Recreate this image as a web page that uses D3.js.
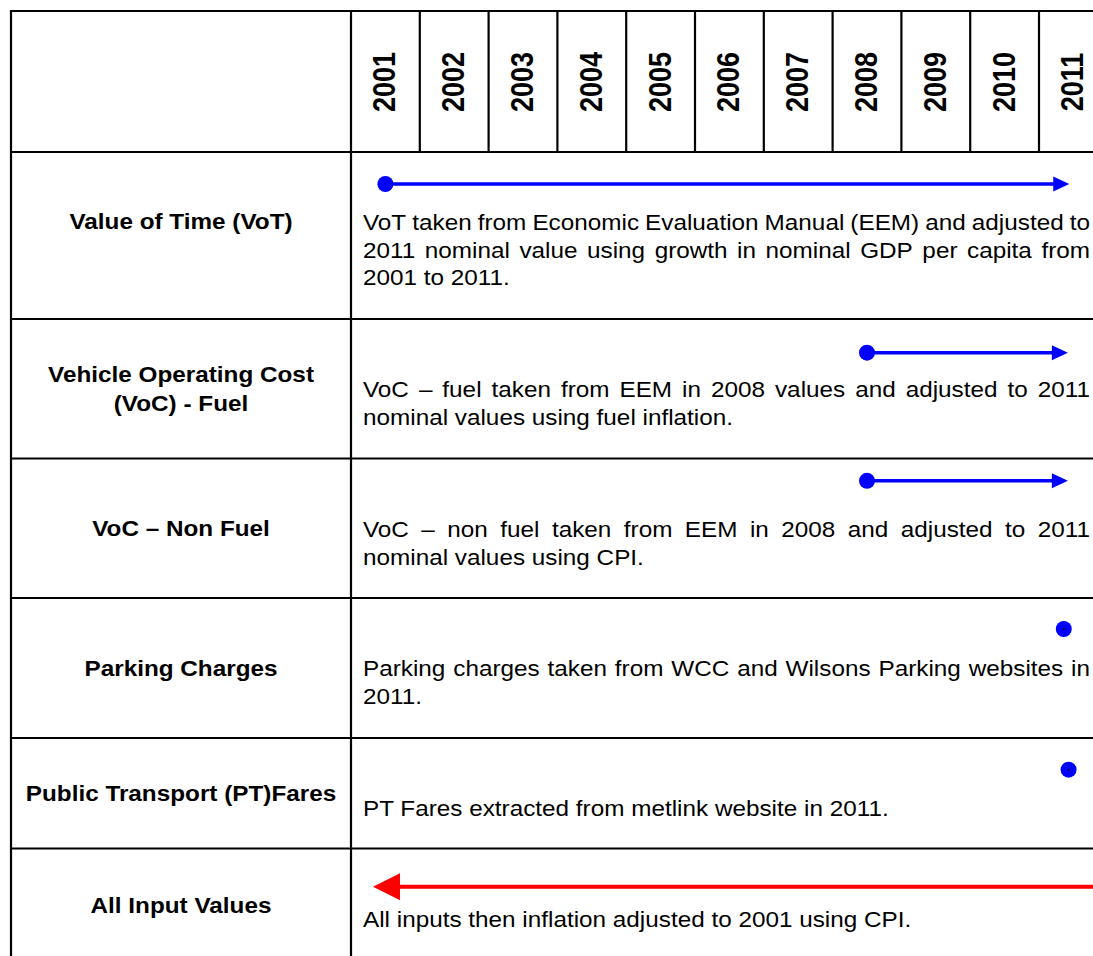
<!DOCTYPE html>
<html>
<head>
<meta charset="utf-8">
<script src="https://cdn.jsdelivr.net/npm/d3@7"></script>
<style>
  body { margin: 0; background: #fff; }
  text { font-family: "Liberation Sans", Arial, sans-serif; fill: #000; }
</style>
</head>
<body>
<div class="chart"></div>
<script>
// ---------------- data ----------------
var years = [2001, 2002, 2003, 2004, 2005, 2006, 2007, 2008, 2009, 2010, 2011];

var rowLabels = [
  ["Value of Time (VoT)"],
  ["Vehicle Operating Cost", "(VoC) - Fuel"],
  ["VoC \u2013 Non Fuel"],
  ["Parking Charges"],
  ["Public Transport (PT)Fares"],
  ["All Input Values"]
];

var rowNotes = [
  ["VoT taken from Economic Evaluation Manual (EEM) and adjusted to",
   "2011 nominal value using growth in nominal GDP per capita from",
   "2001 to 2011."],
  ["VoC \u2013 fuel taken from EEM in 2008 values and adjusted to 2011",
   "nominal values using fuel inflation."],
  ["VoC \u2013 non fuel taken from EEM in 2008 and adjusted to 2011",
   "nominal values using CPI."],
  ["Parking charges taken from WCC and Wilsons Parking websites in",
   "2011."],
  ["PT Fares extracted from metlink website in 2011."],
  ["All inputs then inflation adjusted to 2001 using CPI."]
];

// year where each marker starts / ends (null = dot only)
var spanFrom = [2001, 2008, 2008, 2010.86, 2010.93, 2012];
var spanTo   = [2010.94, 2010.92, 2010.92, null, null, 2000.82];
var spanKind = ["dotArrow", "dotArrow", "dotArrow", "dot", "dot", "arrow"];

// ---------------- layout ----------------
var svgWidth = 1093;
var svgHeight = 956;
var sx = 1.13;            // the source is stretched a little horizontally
var noteSize = 21.5;
var labelSize = 21.5;
var yearSize = 27;

var tableLeft = 11, tableTop = 11, headerBottom = 152, divider = 351;
var rowHeights = [167, 139.5, 139.5, 140, 110.5, 114];
var markerDy = [32, 33.7, 22.3, 31, 31.7, 38.3];
var noteDy = [78, 78, 78.5, 78, 78, 78];
var labelNudge = [-14, 0, 0, 0, 0, 0];

var rowTops = [];
rowHeights.reduce((acc, h) => { rowTops.push(acc); return acc + h; }, headerBottom);

var svg = d3.select(".chart")
  .append("svg")
  .attr("width", svgWidth)
  .attr("height", svgHeight);

var yearBand = d3.scaleBand()
  .domain(years)
  .range([divider, divider + years.length * 68.8])
  .paddingInner(0);

var bw = yearBand.bandwidth();
var xYear = d3.scaleLinear()
  .domain([years[0], years[years.length - 1]])
  .range([yearBand(years[0]) + bw / 2, yearBand(years[years.length - 1]) + bw / 2]);

//--------- grid ---------
var grid = svg.append("g")
  .attr("stroke", "#000")
  .attr("stroke-width", 2.2)
  .attr("fill", "none");

grid.append("line").attr("x1", tableLeft - 1.1).attr("x2", svgWidth).attr("y1", tableTop).attr("y2", tableTop);
grid.append("line").attr("x1", tableLeft).attr("x2", tableLeft).attr("y1", tableTop).attr("y2", svgHeight);
grid.append("line").attr("x1", divider).attr("x2", divider).attr("y1", tableTop).attr("y2", svgHeight);

rowTops.forEach(y => {
  grid.append("line").attr("x1", tableLeft).attr("x2", svgWidth).attr("y1", y).attr("y2", y);
});

years.slice(1).forEach(yr => {
  grid.append("line")
    .attr("x1", yearBand(yr)).attr("x2", yearBand(yr))
    .attr("y1", tableTop).attr("y2", headerBottom);
});

//--------- year headers ---------
var yearCap = yearSize * 0.716 * sx;
svg.append("g").selectAll("text")
  .data(years)
  .enter()
  .append("text")
  .attr("transform", d => `translate(${yearBand(d) + bw / 2 + yearCap / 2 - 1}, 82) scale(${sx},1) rotate(-90)`)
  .attr("text-anchor", "middle")
  .attr("font-weight", "bold")
  .attr("font-size", yearSize)
  .text(d => d);

//--------- row labels ---------
var labelLh = 28.3;
var labelCap = labelSize * 0.716;
rowLabels.forEach((lines, i) => {
  var cy = rowTops[i] + rowHeights[i] / 2 + labelNudge[i];
  var y0 = cy - (lines.length - 1) * labelLh / 2 + labelCap / 2;
  lines.forEach((ln, j) => {
    svg.append("text")
      .attr("transform", `translate(${(tableLeft + divider) / 2}, ${y0 + j * labelLh}) scale(${sx},1)`)
      .attr("text-anchor", "middle")
      .attr("font-weight", "bold")
      .attr("font-size", labelSize)
      .text(ln);
  });
});

//--------- notes (justified like the word table) ---------
var noteLeft = 363, noteRight = 1090, noteLh = 27.6;

function drawNoteLine(x0, x1, y, str, justify) {
  var grp = svg.append("g").attr("transform", `translate(${x0}, ${y}) scale(${sx},1)`);
  if (!justify) {
    grp.append("text").attr("font-size", noteSize).text(str);
    return;
  }
  var words = str.split(" ");
  var nodes = words.map(w => grp.append("text").attr("font-size", noteSize).text(w));
  var widths = nodes.map(n => n.node().getComputedTextLength());
  var gap = ((x1 - x0) / sx - d3.sum(widths)) / (words.length - 1);
  var cx = 0;
  nodes.forEach((n, k) => {
    n.attr("x", cx);
    cx += widths[k] + gap;
  });
}

rowNotes.forEach((lines, i) => {
  lines.forEach((ln, j) => {
    drawNoteLine(noteLeft, noteRight, rowTops[i] + noteDy[i] + j * noteLh, ln, j < lines.length - 1);
  });
});

//--------- markers ---------
var markers = svg.append("g");

function arrow(x1, x2, y, color, width, headLen, headHalf) {
  var dir = x2 > x1 ? 1 : -1;
  var base = x2 - dir * headLen;
  markers.append("line")
    .attr("x1", x1).attr("x2", base + dir * 1)
    .attr("y1", y).attr("y2", y)
    .attr("stroke", color)
    .attr("stroke-width", width);
  markers.append("path")
    .attr("d", `M${x2},${y} L${base},${y - headHalf} L${base},${y + headHalf} Z`)
    .attr("fill", color);
}

spanKind.forEach((kind, i) => {
  var y = rowTops[i] + markerDy[i];
  var x1 = xYear(spanFrom[i]);
  if (kind === "arrow") {
    arrow(x1, xYear(spanTo[i]), y, "#ff0000", 4, 27, 13.5);
    return;
  }
  if (kind === "dotArrow") {
    arrow(x1, xYear(spanTo[i]), y, "#0000ff", 3.5, 16, 7.5);
  }
  markers.append("circle")
    .attr("cx", x1).attr("cy", y).attr("r", 8)
    .attr("fill", "#0000ff");
  if (kind === "dot") {
    markers.append("circle")
      .attr("cx", x1).attr("cy", y).attr("r", 1)
      .attr("fill", "#000");
  }
});
</script>
</body>
</html>
